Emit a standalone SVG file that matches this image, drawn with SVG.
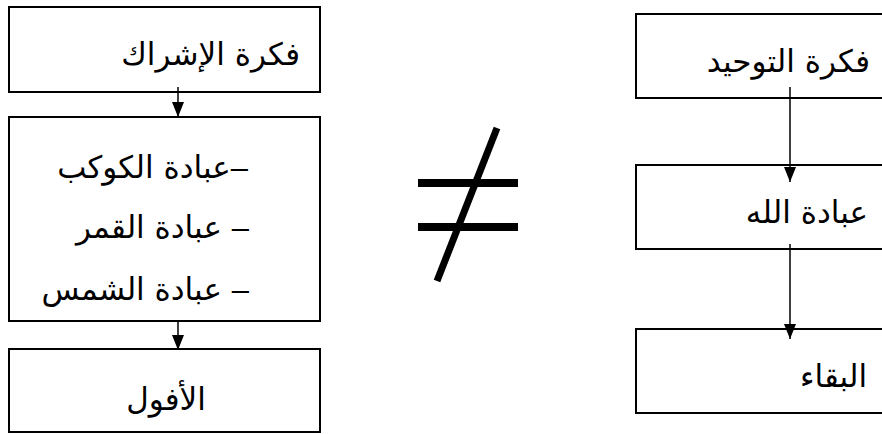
<svg xmlns="http://www.w3.org/2000/svg" width="882" height="434" viewBox="0 0 882 434">
<style>
.box{fill:#fff;stroke:#000;stroke-width:2}
.t{font-family:"DejaVu Sans","Noto Sans",sans-serif;font-size:31px;fill:#000}
.d{font-family:"Liberation Sans",sans-serif}
.r{direction:rtl;text-anchor:start}
.c{text-anchor:middle}
.con{stroke:#000;stroke-width:1.5;fill:none}
</style>
<defs>
<marker id="ah" markerUnits="userSpaceOnUse" markerWidth="15" markerHeight="12" refX="15" refY="6" orient="auto">
<path d="M0,0 L15,6 L0,12 z" fill="#000"/>
</marker>
</defs>
<g id="shirk">
<rect class="box" x="9" y="7" width="311" height="85"/>
<text class="t r" x="300" y="65" direction="rtl">فكرة الإشراك</text>
</g>
<g id="worship-list">
<rect class="box" x="9" y="117" width="311" height="204"/>
<text class="t r" x="248" y="178" direction="rtl"><tspan class="d">–</tspan>عبادة الكوكب</text>
<text class="t r" x="249" y="238" direction="rtl"><tspan class="d">–</tspan> عبادة القمر</text>
<text class="t r" x="249" y="300" direction="rtl"><tspan class="d">–</tspan> عبادة الشمس</text>
</g>
<g id="ufool">
<rect class="box" x="9" y="349" width="311" height="83"/>
<text class="t c" x="166" y="410">الأفول</text>
</g>
<g id="tawhid">
<rect class="box" x="636" y="14" width="260" height="84"/>
<text class="t r" x="870" y="72" direction="rtl">فكرة التوحيد</text>
</g>
<g id="ibadat-allah">
<rect class="box" x="636" y="165" width="260" height="84"/>
<text class="t r" x="868" y="223" direction="rtl">عبادة الله</text>
</g>
<g id="baqa">
<rect class="box" x="636" y="329" width="260" height="84"/>
<text class="t r" x="867" y="387" direction="rtl">البقاء</text>
</g>
<g id="not-equal">
<rect x="418" y="179" width="100" height="8" fill="#000"/>
<rect x="418" y="223" width="100" height="8" fill="#000"/>
<line x1="497" y1="128" x2="437" y2="281" stroke="#000" stroke-width="7"/>
</g>
<g id="connectors">
<line class="con" x1="178" y1="87" x2="178" y2="117" marker-end="url(#ah)"/>
<line class="con" x1="178" y1="321" x2="178" y2="350" marker-end="url(#ah)"/>
<line class="con" x1="790" y1="87" x2="790" y2="182" marker-end="url(#ah)"/>
<line class="con" x1="790" y1="244" x2="790" y2="339" marker-end="url(#ah)"/>
</g>
</svg>
